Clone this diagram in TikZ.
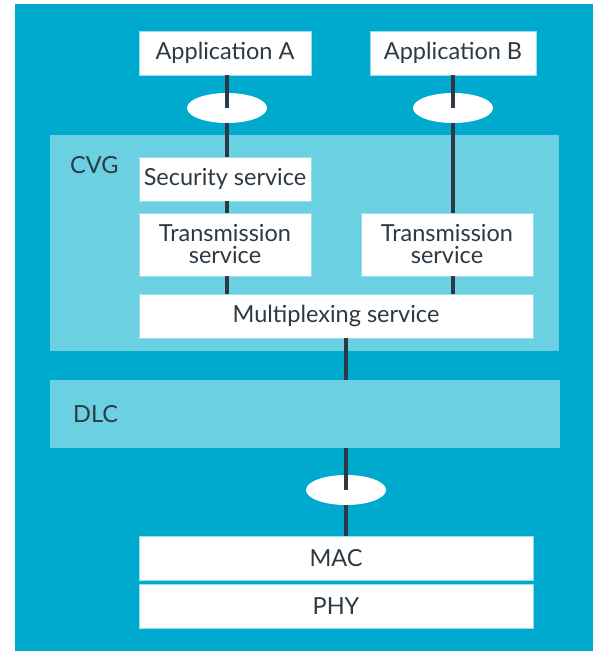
\documentclass[tikz,border=0pt]{standalone}
\usepackage{fontspec}
\setmainfont{Lato}
\usetikzlibrary{shapes.geometric}
\definecolor{outerblue}{RGB}{0,170,206}
\definecolor{lightblue}{RGB}{106,208,226}
\definecolor{boxedge}{RGB}{150,222,236}
\definecolor{ink}{RGB}{45,58,69}
\tikzset{
  wbox/.style={draw=boxedge, line width=0.8pt, fill=white, inner sep=0pt, text=ink,
    font=\fontsize{23.5}{22}\selectfont, align=center},
  layer/.style={draw=none, fill=lightblue, inner sep=0pt},
  pipe/.style={ellipse, fill=white, draw=none, inner sep=0pt, minimum width=80pt, minimum height=30pt},
  conn/.style={draw=ink, line width=3.3pt},
  lbl/.style={text=ink, font=\fontsize{23.5}{22}\selectfont, inner sep=0pt, anchor=base west}
}
\begin{document}
\begin{tikzpicture}[x=1pt,y=-1pt]
\useasboundingbox (0,0) rectangle (593,651);
\fill[white] (0,0) rectangle (593,651);
\fill[outerblue] (15,4) rectangle (593,651);
% layers
\node[layer, minimum width=509pt, minimum height=216pt] (cvg) at (304.5,243) {};
\node[layer, minimum width=510pt, minimum height=68pt] (dlc) at (305,414) {};
\node[lbl] (cvgl) at (70,173) {CVG};
\node[lbl] (dlcl) at (73,422) {DLC};
% boxes
\node[wbox, minimum width=172pt, minimum height=44pt] (appA) at (225,53) {Application A};
\node[wbox, minimum width=166pt, minimum height=44pt] (appB) at (453,53) {Application B};
\node[wbox, minimum width=172pt, minimum height=44pt] (sec) at (225,179) {Security service};
\node[wbox, minimum width=172pt, minimum height=63pt] (trA) at (225,244.5) {Transmission\\service};
\node[wbox, minimum width=172pt, minimum height=63pt] (trB) at (447,244.5) {Transmission\\service};
\node[wbox, minimum width=394pt, minimum height=44pt] (mux) at (336,316) {Multiplexing service};
\node[wbox, minimum width=394pt, minimum height=44pt] (mac) at (336,558) {MAC};
\node[wbox, minimum width=394pt, minimum height=44pt] (phy) at (336,606) {PHY};
% pipes
\node[pipe] (ellA) at (227,108) {};
\node[pipe] (ellB) at (453,108) {};
\node[pipe] (ellC) at (346,490) {};
% connectors
\draw[conn] (appA.south -| ellA) -- (ellA.center);
\draw[conn] (ellA.south) -- (sec.north -| ellA);
\draw[conn] (sec.south -| ellA) -- (trA.north -| ellA);
\draw[conn] (trA.south -| ellA) -- (mux.north -| ellA);
\draw[conn] (appB.south -| ellB) -- (ellB.center);
\draw[conn] (ellB.south) -- (trB.north -| ellB);
\draw[conn] (trB.south -| ellB) -- (mux.north -| ellB);
\draw[conn] (mux.south -| ellC) -- (dlc.north -| ellC);
\draw[conn] (dlc.south -| ellC) -- (ellC.center);
\draw[conn] (ellC.south) -- (mac.north -| ellC);
\end{tikzpicture}
\end{document}
